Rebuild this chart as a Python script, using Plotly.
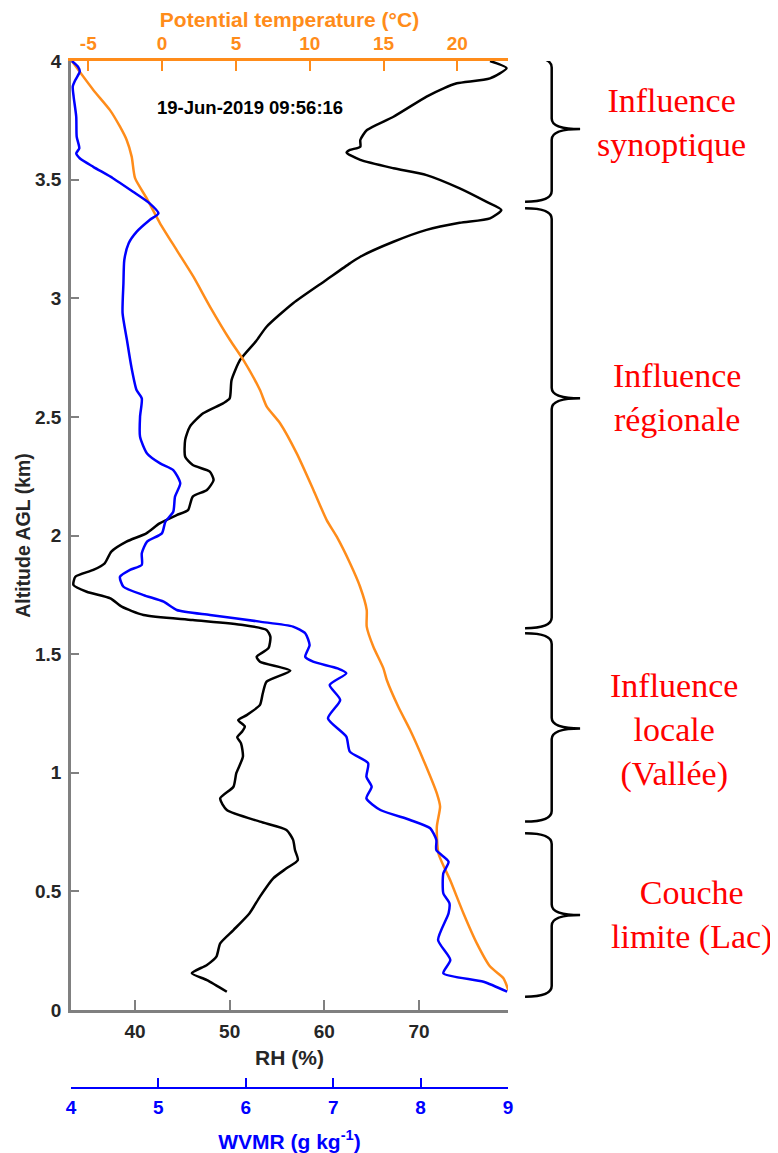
import plotly.graph_objects as go

# ---------------- data ----------------
rh_alt = [4.00, 3.97, 3.927, 3.906, 3.885, 3.85, 3.765, 3.709, 3.667, 3.639, 3.625, 3.614, 3.583, 3.548,
          3.519, 3.463, 3.407, 3.372, 3.337, 3.318, 3.288, 3.238, 3.175, 3.147, 3.077, 2.979, 2.88, 2.82,
          2.74, 2.655, 2.578, 2.557, 2.515, 2.459, 2.403, 2.332, 2.297, 2.269, 2.234, 2.192, 2.164, 2.107,
          2.086, 2.051, 2.009, 1.974, 1.932, 1.883, 1.855, 1.826, 1.791, 1.763, 1.735, 1.70, 1.665, 1.644,
          1.623, 1.602, 1.573, 1.525, 1.489, 1.468, 1.43, 1.384, 1.335, 1.286, 1.243, 1.222, 1.195, 1.173,
          1.15, 1.124, 1.068, 0.998, 0.941, 0.892, 0.843, 0.794, 0.759, 0.717, 0.674, 0.632, 0.597, 0.555,
          0.478, 0.408, 0.337, 0.281, 0.225, 0.19, 0.155, 0.126, 0.077]
rh_val = [77.5, 79.25, 77.5, 74.0, 72.6, 70.8, 67.3, 64.5, 63.8, 63.8, 62.7, 62.35, 63.8, 67.3,
          70.8, 74.3, 77.1, 78.7, 77.5, 74.3, 70.8, 67.3, 63.8, 62.7, 60.2, 56.7, 53.9, 52.8,
          51.1, 50.2, 50.0, 49.3, 47.2, 45.8, 45.3, 45.3, 46.1, 47.9, 48.3, 47.6, 46.1, 45.6,
          44.4, 42.6, 41.2, 39.1, 37.5, 36.8, 35.6, 33.7, 33.5, 34.9, 37.4, 38.6, 40.9, 46.1,
          51.4, 53.9, 54.3, 54.1, 52.85, 53.2, 56.4, 53.9, 53.5, 53.2, 51.8, 50.9, 51.6, 51.3,
          50.8, 51.2, 51.4, 50.7, 50.4, 49.0, 49.7, 53.2, 56.0, 56.7, 56.9, 57.2, 56.0, 54.6,
          53.2, 52.1, 50.4, 49.0, 48.6, 47.6, 46.0, 47.6, 49.7]

wv_alt = [4.00, 3.976, 3.955, 3.92, 3.892, 3.85, 3.765, 3.681, 3.632, 3.611, 3.59, 3.554, 3.506, 3.449,
          3.40, 3.358, 3.33, 3.28, 3.232, 3.161, 3.063, 2.937, 2.824, 2.712, 2.613, 2.578, 2.501, 2.416,
          2.346, 2.304, 2.276, 2.22, 2.164, 2.10, 2.058, 2.009, 1.974, 1.925, 1.876, 1.855, 1.826, 1.784,
          1.749, 1.721, 1.686, 1.665, 1.637, 1.616, 1.588, 1.538, 1.489, 1.468, 1.44, 1.419, 1.37, 1.307,
          1.229, 1.152, 1.089, 1.04, 0.983, 0.941, 0.892, 0.843, 0.801, 0.766, 0.717, 0.674, 0.625, 0.576,
          0.492, 0.45, 0.408, 0.295, 0.211, 0.155, 0.119, 0.077]
wv_val = [4.01, 4.08, 4.10, 4.05, 4.02, 4.03, 4.06, 4.065, 4.095, 4.06, 4.10, 4.255, 4.48, 4.71,
          4.90, 5.00, 4.90, 4.75, 4.66, 4.61, 4.60, 4.59, 4.64, 4.69, 4.75, 4.81, 4.79, 4.79,
          4.87, 5.02, 5.17, 5.25, 5.19, 5.17, 5.08, 5.04, 4.87, 4.81, 4.81, 4.675, 4.56, 4.60,
          4.83, 5.06, 5.21, 5.59, 6.16, 6.54, 6.68, 6.73, 6.68, 6.77, 7.05, 7.15, 6.96, 7.08,
          6.94, 7.15, 7.19, 7.40, 7.38, 7.44, 7.38, 7.54, 7.88, 8.11, 8.18, 8.18, 8.32, 8.26,
          8.26, 8.33, 8.32, 8.20, 8.34, 8.26, 8.72, 8.99]

th_alt = [4.00, 3.878, 3.793, 3.723, 3.667, 3.597, 3.506, 3.421, 3.316, 3.203, 3.091, 2.964, 2.824,
          2.74, 2.613, 2.543, 2.473, 2.346, 2.192, 2.065, 1.995, 1.883, 1.784, 1.686, 1.616, 1.531,
          1.44, 1.391, 1.278, 1.18, 1.054, 0.913, 0.857, 0.773, 0.66, 0.548, 0.408, 0.281, 0.183,
          0.134, 0.084]
th_val = [-6.12, -4.66, -3.53, -2.85, -2.40, -2.06, -1.83, -1.04, -0.14, 0.99, 2.12, 3.25, 4.60,
          5.50, 6.63, 7.09, 7.99, 9.12, 10.25, 11.15, 11.83, 12.73, 13.41, 13.86, 13.86, 14.31,
          14.99, 15.22, 16.0, 16.80, 17.70, 18.61, 18.83, 18.61, 18.72, 19.51, 20.41, 21.32, 22.22,
          23.12, 23.45]

alt_ticks = [0, 0.5, 1, 1.5, 2, 2.5, 3, 3.5, 4]
alt_ticklabels = ["0", "0.5", "1", "1.5", "2", "2.5", "3", "3.5", "4"]
rh_ticks = [40, 50, 60, 70]
th_ticks = [-5, 0, 5, 10, 15, 20]
th_ticklabels = ["-5", "0", "5", "10", "15", "20"]
wv_ticks = [4, 5, 6, 7, 8, 9]

zone_names = ["Influence<br>synoptique", "Influence<br>régionale", "Influence<br>locale<br>(Vallée)",
              "Couche<br>limite (Lac)"]
zone_top = [4.018, 3.379, 1.588, 0.745]
zone_bot = [3.407, 1.609, 0.794, 0.056]
zone_mid = [3.713, 2.578, 1.187, 0.40]
timestamp = "19-Jun-2019 09:56:16"

# ---------------- figure ----------------
ORANGE = "#FF8C1A"
BLUE = "#0000FF"
GRAY = "#808080"
TXT = "#262626"
FONT = "Liberation Sans, Arial, sans-serif"
SERIF = "Liberation Serif, Times New Roman, serif"

fig = go.Figure()
fig.add_trace(go.Scatter(x=th_val, y=th_alt, xaxis="x2", yaxis="y", mode="lines",
                         line=dict(color=ORANGE, width=2.5, shape="spline", smoothing=0.6)))
fig.add_trace(go.Scatter(x=wv_val, y=wv_alt, xaxis="x3", yaxis="y", mode="lines",
                         line=dict(color=BLUE, width=2.5, shape="spline", smoothing=0.6)))
fig.add_trace(go.Scatter(x=rh_val, y=rh_alt, xaxis="x", yaxis="y", mode="lines",
                         line=dict(color="black", width=2.5, shape="spline", smoothing=0.6)))

TICK_SIZE = 19
TITLE_SIZE = 21
tickfont = dict(family=FONT, size=TICK_SIZE, color=TXT, weight="bold")

fig.update_layout(
    width=770, height=1145,
    margin=dict(l=63, r=270, t=53, b=65),
    plot_bgcolor="white", paper_bgcolor="white", showlegend=False,
    font=dict(family=FONT),
    xaxis=dict(range=[33.24, 79.4], tickvals=rh_ticks, ticks="inside", ticklen=10, tickwidth=2,
               tickcolor=GRAY, showline=True, linecolor=GRAY, linewidth=2.5, showgrid=False,
               zeroline=False, tickfont=tickfont, anchor="y", ticklabelstandoff=2, automargin=False,
               title=dict(text="RH (%)", font=dict(family=FONT, size=TITLE_SIZE, color=TXT, weight="bold"),
                          standoff=10)),
    xaxis2=dict(range=[-6.17, 23.43], tickvals=th_ticks, ticktext=th_ticklabels, overlaying="x",
                side="top", anchor="y", ticks="inside", ticklen=10, tickwidth=2, tickcolor=ORANGE,
                showline=True, linecolor=ORANGE, linewidth=2.5, showgrid=False, zeroline=False,
                tickfont=dict(family=FONT, size=TICK_SIZE, color=ORANGE, weight="bold"),
                ticklabelstandoff=1, automargin=False,
                title=dict(text="Potential temperature (°C)",
                           font=dict(family=FONT, size=TITLE_SIZE, color=ORANGE, weight="bold"), standoff=3)),
    xaxis3=dict(range=[4, 9], tickvals=wv_ticks, overlaying="x", anchor="free", position=0,
                side="bottom", ticks="inside", ticklen=9, tickwidth=2, tickcolor=BLUE,
                showline=True, linecolor=BLUE, linewidth=2, showgrid=False, zeroline=False,
                tickfont=dict(family=FONT, size=TICK_SIZE, color=BLUE, weight="bold"),
                ticklabelstandoff=2, automargin=False,
                title=dict(text="WVMR (g kg<sup>-1</sup>)",
                           font=dict(family=FONT, size=TITLE_SIZE, color=BLUE, weight="bold"), standoff=20)),
    yaxis=dict(domain=[(1080 - 1002) / 1027, 1], range=[0, 4], tickvals=alt_ticks,
               ticktext=alt_ticklabels, ticks="inside", ticklen=8, tickwidth=2, tickcolor=GRAY,
               showline=True, linecolor=GRAY, linewidth=2.5, showgrid=False, zeroline=False,
               tickfont=tickfont, ticklabelstandoff=3, automargin=False,
               title=dict(text="Altitude AGL (km)",
                          font=dict(family=FONT, size=19.5, color=TXT, weight="bold"), standoff=0)),
)

fig.add_annotation(text="<b>" + timestamp + "</b>", xref="paper", yref="y", x=0.41, y=3.806,
                   xanchor="center", yanchor="middle", showarrow=False,
                   font=dict(family=FONT, size=18.5, color="black"))

# curly braces and zone labels
x0, x1, x2 = 1.039, 1.100, 1.165
d = 0.045
label_x = [1.373, 1.387, 1.380, 1.421]
label_alt = [3.74, 2.58, 1.18, 0.40]
for name, top, bot, mid, lx, ly in zip(zone_names, zone_top, zone_bot, zone_mid, label_x, label_alt):
    path = (f"M {x0},{top} Q {x1},{top} {x1},{top - d} L {x1},{mid + d} "
            f"Q {x1},{mid} {x2},{mid} Q {x1},{mid} {x1},{mid - d} "
            f"L {x1},{bot + d} Q {x1},{bot} {x0},{bot}")
    fig.add_shape(type="path", path=path, xref="paper", yref="y",
                  line=dict(color="black", width=2.5))
    fig.add_annotation(text=name, xref="paper", yref="y", x=lx, y=ly, showarrow=False,
                       xanchor="center", yanchor="middle", align="center",
                       font=dict(family=SERIF, size=34, color="#FF0000"))

fig.write_html("out.html")
